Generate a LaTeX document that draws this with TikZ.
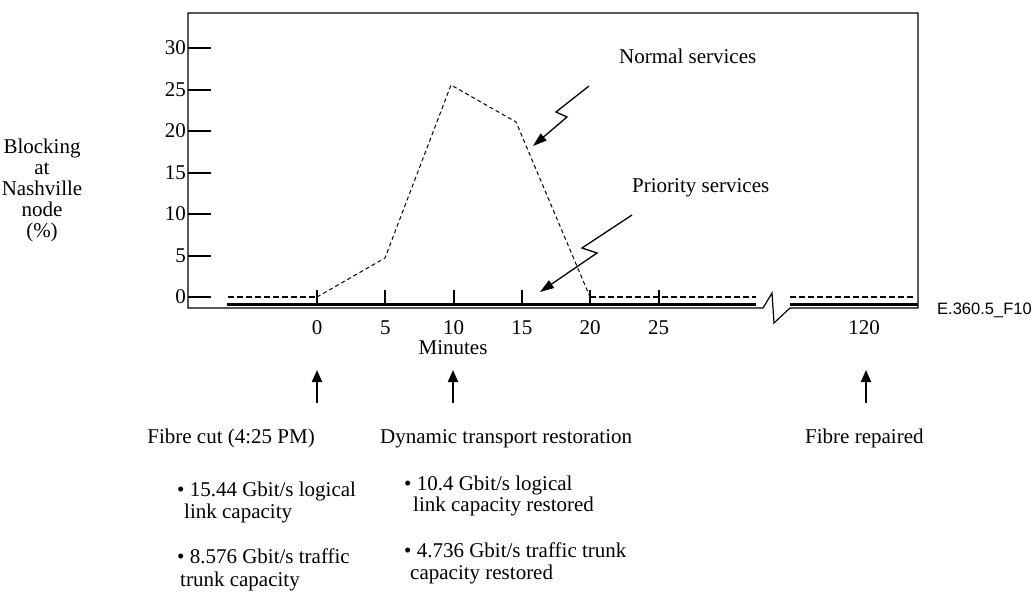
\documentclass[tikz,border=0pt]{standalone}
\usepackage{fontspec}
\setmainfont{Liberation Serif}
\setsansfont{Liberation Sans}
\usetikzlibrary{arrows.meta}
\begin{document}
\begin{tikzpicture}[x=1pt,y=-1pt,
  lbl/.style={font=\fontsize{21}{21}\selectfont, inner sep=0pt},
  figid/.style={font=\sffamily\fontsize{16.5}{17}\selectfont, inner sep=0pt},
  frameline/.style={line width=1.2pt},
  tickline/.style={line width=2pt},
  baseline/.style={line width=2.4pt},
  zeroline/.style={line width=2pt, dash pattern=on 6pt off 3pt},
  curveline/.style={line width=1pt, dash pattern=on 4pt off 3pt},
  callout/.style={line width=1.3pt, -{Triangle[length=14pt,width=9pt]}},
  uparrow/.style={line width=2pt, -{Triangle[length=12pt,width=10pt]}}]
\useasboundingbox (0,0) rectangle (1036,605);

% plot frame with axis break
\draw[frameline] (188,13) -- (918,13) -- (918,308) -- (790,308) -- (774,323)
  -- (772,293) -- (763,308) -- (188,308) -- cycle;

% y axis ticks and labels
\foreach \v in {0,5,...,30} {
  \draw[tickline] (188,297-\v*8.3) -- (211,297-\v*8.3);
  \node[lbl, anchor=east] (y\v) at (186,297-\v*8.3) {\v};
}
\node[lbl, align=center] (ylab) at (42,190)
  {Blocking\\at\\Nashville\\node\\(\%)};

% x axis ticks and labels
\foreach \m in {0,5,...,25} {
  \draw[tickline] (317+\m*13.66,290) -- (317+\m*13.66,304);
  \node[lbl, anchor=base] (x\m) at (317+\m*13.66,334) {\m};
}
\node[lbl, anchor=base] (x120) at (864,334) {120};
\node[lbl, anchor=base] (xlab) at (453,354) {Minutes};

% priority services: solid baseline
\draw[baseline] (227,304.5) -- (756,304.5);
\draw[baseline] (790,304.5) -- (918,304.5);

% normal services: zero blocking outside the outage
\draw[zeroline] (228,297) -- (317,297);
\draw[zeroline] (590,297) -- (756,297);
\draw[zeroline] (790,297) -- (914,297);

% normal services blocking curve
\draw[curveline] (317,297) -- (385,258) -- (451,85) -- (516,122) -- (590,297);

% callouts
\node[lbl, anchor=base west] (normal) at (619,63) {Normal services};
\node[lbl, anchor=base west] (prio) at (632,192) {Priority services};
\coordinate (nA) at (589,86);
\coordinate (nB) at (533,146);
\coordinate (pA) at (632,215);
\coordinate (pB) at (540,292);
\draw[callout] (nA) -- (556,112) -- (567,117) -- (nB);
\draw[callout] (pA) -- (582,248) -- (597,253) -- (pB);

% event markers
\coordinate (e1t) at (317,370); \coordinate (e1b) at (317,403);
\coordinate (e2t) at (453,370); \coordinate (e2b) at (453,403);
\coordinate (e3t) at (866,370); \coordinate (e3b) at (866,403);
\draw[uparrow] (e1b) -- (e1t);
\draw[uparrow] (e2b) -- (e2t);
\draw[uparrow] (e3b) -- (e3t);

\node[lbl, anchor=base east] (cut) at (315,443) {Fibre cut (4:25 PM)};
\node[lbl, anchor=base west] (dyn) at (380,443) {Dynamic transport restoration};
\node[lbl, anchor=base west] (rep) at (805,443) {Fibre repaired};

% capacity notes
\node[lbl, anchor=base west] (c1) at (177,496) {\textbullet\ 15.44 Gbit/s logical};
\node[lbl, anchor=base west] (c2) at (184,518) {link capacity};
\node[lbl, anchor=base west] (c3) at (177,563) {\textbullet\ 8.576 Gbit/s traffic};
\node[lbl, anchor=base west] (c4) at (180,586) {trunk capacity};

\node[lbl, anchor=base west] (r1) at (404,490) {\textbullet\ 10.4 Gbit/s logical};
\node[lbl, anchor=base west] (r2) at (413,511) {link capacity restored};
\node[lbl, anchor=base west] (r3) at (404,557) {\textbullet\ 4.736 Gbit/s traffic trunk};
\node[lbl, anchor=base west] (r4) at (410,579) {capacity restored};

\node[figid, anchor=base west] (fid) at (937,314) {E.360.5\_F10};
\end{tikzpicture}
\end{document}
